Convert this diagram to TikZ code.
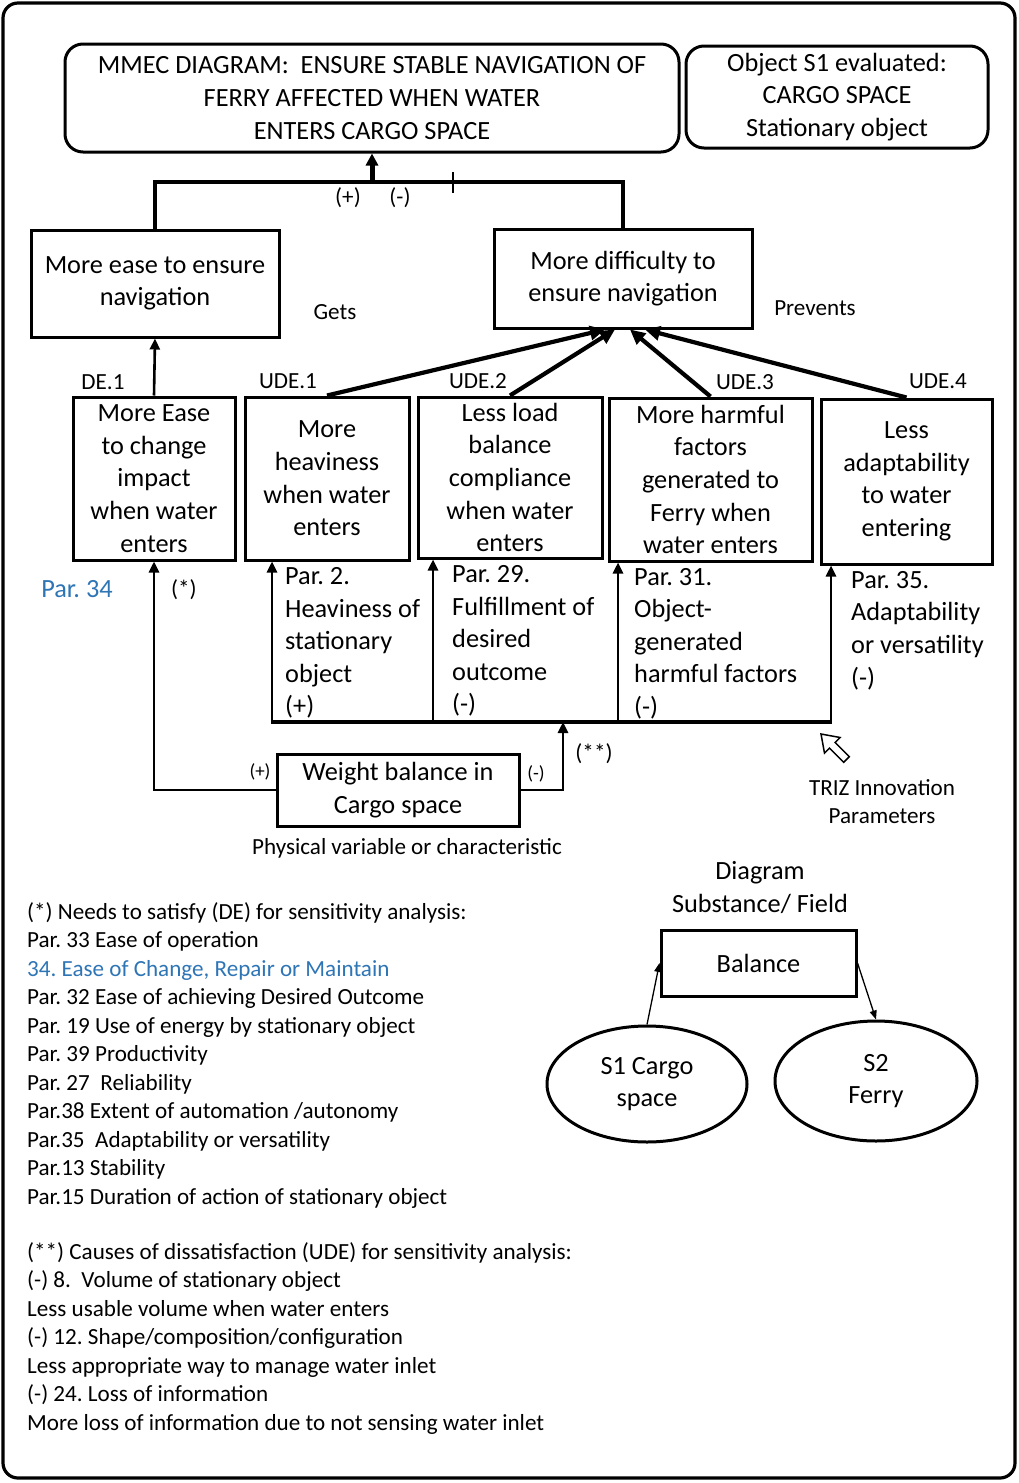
\documentclass[tikz,border=0pt]{standalone}
\usepackage{fontspec}
\setmainfont{Carlito}
\usetikzlibrary{arrows.meta,shapes.geometric}
\definecolor{parblue}{RGB}{46,117,182}
\newcommand{\lgtxt}{\fontsize{26.3}{32.6}\selectfont}
\newcommand{\mdtxt}{\fontsize{23.1}{28.5}\selectfont}
\frenchspacing
\tikzset{
	box/.style={draw, line width=3pt, align=center, inner sep=0pt, font=\lgtxt},
	rbox/.style={box, rounded corners=18pt},
	lbl/.style={align=center, inner sep=0pt, font=\mdtxt},
	par/.style={align=left, inner sep=0pt, font=\lgtxt, anchor=west},
	link/.style={line width=3.2pt},
	arr/.style={line width=2.6pt, -{Triangle[length=11pt,width=10pt]}},
	bigarr/.style={line width=4.2pt, -{Triangle[length=15pt,width=14pt]}},
	thinarr/.style={line width=1.3pt, -{Triangle[length=9pt,width=7pt]}}
}
\begin{document}
\begin{tikzpicture}[x=1pt, y=-1pt]
	\useasboundingbox (0,0) rectangle (1019,1483);
	\draw[line width=3.2pt, rounded corners=15pt] (3,3) rectangle (1015,1478);
	
	% heading
	\node[rbox, minimum width=614pt, minimum height=108pt] (title) at (372,98)
	{MMEC DIAGRAM:~ ENSURE STABLE NAVIGATION OF\\FERRY AFFECTED WHEN WATER\\ENTERS CARGO SPACE};
	\node[rbox, minimum width=302pt, minimum height=102pt] (object) at (837,97)
	{Object S1 evaluated:\\CARGO SPACE\\Stationary object};
	
	\node[box, minimum width=248pt, minimum height=107pt] (ease) at (155,283.5)
	{More ease to ensure\\navigation};
	\node[box, minimum width=258pt, minimum height=99pt] (difficulty) at (623,278.5)
	{More difficulty to\\ensure navigation};
	\node[lbl] (gets) at (335,312) {Gets};
	\node[lbl] (prevents) at (815,308) {Prevents};
	\node[lbl] (plus) at (348,198) {(+)};
	\node[lbl] (minus) at (400,198) {(-)};
	
	\coordinate (join) at (372,182);
	\draw[link] (ease.north) |- (join) -| (difficulty.north);
	\draw[line width=5pt, -{Triangle[length=12pt,width=12pt]}] (join) -- (title.south);
	\draw[line width=1.2pt] (453,172) -- (453,193);
	
	% effects
	\node[box, minimum width=162pt, minimum height=163pt] (de1) at (154,478.5)
	{More Ease\\to change\\impact\\when water\\enters};
	\node[box, minimum width=164pt, minimum height=163pt] (ude1) at (327,478.5)
	{More\\heaviness\\when water\\enters};
	\node[box, minimum width=184pt, minimum height=161pt] (ude2) at (510,477.5)
	{Less load\\balance\\compliance\\when water\\enters};
	\node[box, minimum width=203pt, minimum height=163pt] (ude3) at (710.5,479.5)
	{More harmful\\factors\\generated to\\Ferry when\\water enters};
	\node[box, minimum width=171pt, minimum height=165pt] (ude4) at (906.5,481.5)
	{Less\\adaptability\\to water\\entering};
	
	\node[lbl] (de1lbl) at (103,382) {DE.1};
	\node[lbl] (ude1lbl) at (288,381) {UDE.1};
	\node[lbl] (ude2lbl) at (478,381) {UDE.2};
	\node[lbl] (ude3lbl) at (745,382) {UDE.3};
	\node[lbl] (ude4lbl) at (938,381) {UDE.4};
	
	\draw[arr] (de1.north) -- (ease.south);
	\draw[bigarr] (ude1.north) -- ([xshift=-18pt]difficulty.south);
	\draw[bigarr] (ude2.north) -- ([xshift=-8pt]difficulty.south);
	\draw[bigarr] (ude3.north) -- ([xshift=7pt]difficulty.south);
	\draw[bigarr] (ude4.north) -- ([xshift=22pt]difficulty.south);
	
	% TRIZ parameters
	\node[lbl, font=\lgtxt, text=parblue] (par34) at (77,589) {Par. 34};
	\node[lbl] (star) at (184,590) {(*)};
	\node[par] (par2) at (285,643) {Par. 2.\\Heaviness of\\stationary\\object\\(+)};
	\node[par] (par29) at (452,641) {Par. 29.\\Fulfillment of\\desired\\outcome\\(-)};
	\node[par] (par31) at (634,643.5) {Par. 31.\\Object-\\generated\\harmful factors\\(-)};
	\node[par] (par35) at (851,630.5) {Par. 35.\\Adaptability\\or versatility\\(-)};
	
	\coordinate (busL) at (271,722);
	\coordinate (busR) at (832,722);
	\coordinate (busIn) at (563,722);
	\coordinate (p2) at (272,722);
	\coordinate (p29) at (433,722);
	\coordinate (p31) at (618,722);
	\coordinate (p35) at (831,722);
	\draw[link] (busL) -- (busR);
	\draw[arr] (p2) -- (p2 |- ude1.south);
	\draw[arr] (p29) -- (p29 |- ude2.south);
	\draw[arr] (p31) -- (p31 |- ude3.south);
	\draw[arr] (p35) -- (p35 |- ude4.south);
	
	% variable
	\node[box, minimum width=242pt, minimum height=72pt] (weight) at (398,790)
	{Weight balance in\\Cargo space};
	\node[lbl] (wplus) at (260,772) {\fontsize{19}{22}\selectfont(+)};
	\node[lbl] (wminus) at (536,774) {\fontsize{19}{22}\selectfont(-)};
	\node[lbl] (stars) at (594,754) {(**)};
	\node[lbl] (physvar) at (407,848) {Physical variable or characteristic};
	\draw[arr] (weight.west) -| (de1.south);
	\draw[arr] (weight.east) -| (busIn);
	
	\draw[line width=1.5pt, line join=miter] (821,734) -- (840.1,737.5) -- (835.1,742.5) -- (849.3,756.7)
	-- (843.7,762.3) -- (829.5,748.1) -- (824.5,753.1) -- cycle;
	\node[lbl] (triz) at (882,801.5) {TRIZ Innovation\\Parameters};
	
	% substance field
	\node[lbl, font=\lgtxt] (sfhead) at (760,887.5) {Diagram\\Substance/ Field};
	\node[box, minimum width=195pt, minimum height=66pt] (balance) at (758.5,963) {Balance};
	\node[box, ellipse, minimum width=200pt, minimum height=116pt] (sone) at (647,1084) {S1 Cargo\\space};
	\node[box, ellipse, minimum width=202pt, minimum height=120pt] (stwo) at (876,1081) {S2\\Ferry};
	\draw[thinarr] (sone.north) -- (balance.west);
	\draw[thinarr] (balance.east) -- (stwo.north);
	
	% notes
	\node[lbl, align=left, anchor=west] (desnotes) at (27,1055.5)
	{(*) Needs to satisfy (DE) for sensitivity analysis:\\
		Par. 33 Ease of operation\\
		{\color{parblue}34. Ease of Change, Repair or Maintain}\\
		Par. 32 Ease of achieving Desired Outcome\\
		Par. 19 Use of energy by stationary object\\
		Par. 39 Productivity\\
		Par. 27~ Reliability\\
		Par.38 Extent of automation /autonomy\\
		Par.35~ Adaptability or versatility\\
		Par.13 Stability\\
		Par.15 Duration of action of stationary object};
	\node[lbl, align=left, anchor=west] (udenotes) at (27,1338.5)
	{(**) Causes of dissatisfaction (UDE) for sensitivity analysis:\\
		(-) 8.~ Volume of stationary object\\
		Less usable volume when water enters\\
		(-) 12. Shape/composition/configuration\\
		Less appropriate way to manage water inlet\\
		(-) 24. Loss of information\\
		More loss of information due to not sensing water inlet};
\end{tikzpicture}
\end{document}
